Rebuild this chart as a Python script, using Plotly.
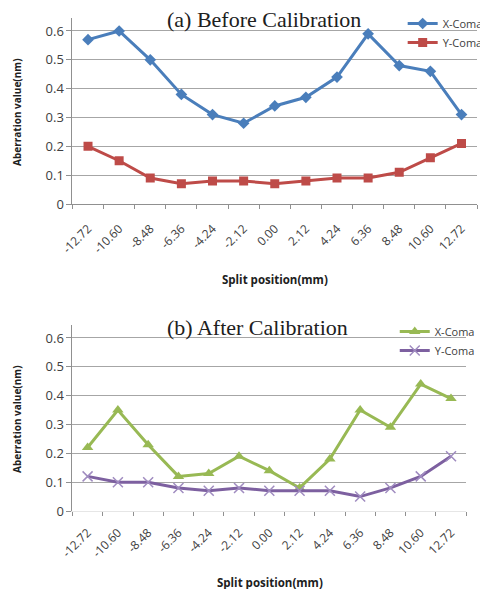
import plotly.graph_objects as go

positions = ["-12.72", "-10.60", "-8.48", "-6.36", "-4.24", "-2.12", "0.00",
             "2.12", "4.24", "6.36", "8.48", "10.60", "12.72"]
before_x = [0.57, 0.60, 0.50, 0.38, 0.31, 0.28, 0.34, 0.37, 0.44, 0.59, 0.48, 0.46, 0.31]
before_y = [0.20, 0.15, 0.09, 0.07, 0.08, 0.08, 0.07, 0.08, 0.09, 0.09, 0.11, 0.16, 0.21]
after_x = [0.22, 0.35, 0.23, 0.12, 0.13, 0.19, 0.14, 0.08, 0.18, 0.35, 0.29, 0.44, 0.39]
after_y = [0.12, 0.10, 0.10, 0.08, 0.07, 0.08, 0.07, 0.07, 0.07, 0.05, 0.08, 0.12, 0.19]
y_ticks = [0, 0.1, 0.2, 0.3, 0.4, 0.5, 0.6]
y_tick_text = ["0", "0.1", "0.2", "0.3", "0.4", "0.5", "0.6"]

# page body has an 8px margin, so the figure is 8px smaller than the window
OFF = 8
W, H = 488 - OFF, 589 - OFF
BLUE, RED, GREEN, PURPLE = "#4a7ebb", "#be4b48", "#98b954", "#7d60a0"
SANS = "Open Sans, DejaVu Sans, sans-serif"
SERIF = "Liberation Serif, Times New Roman, serif"


def px(x):
    return (x - OFF) / W


def py(y):
    return 1 - (y - OFF) / H


fig = go.Figure()
fig.add_trace(go.Scatter(x=positions, y=before_x, name="X-Coma", mode="lines+markers",
                         line=dict(color=BLUE, width=3), marker=dict(symbol="diamond", size=9, color=BLUE),
                         xaxis="x", yaxis="y", legend="legend"))
fig.add_trace(go.Scatter(x=positions, y=before_y, name="Y-Coma", mode="lines+markers",
                         line=dict(color=RED, width=3), marker=dict(symbol="square", size=9, color=RED),
                         xaxis="x", yaxis="y", legend="legend"))
fig.add_trace(go.Scatter(x=positions, y=after_x, name="X-Coma", mode="lines+markers",
                         line=dict(color=GREEN, width=3), marker=dict(symbol="triangle-up", size=10, color=GREEN),
                         xaxis="x2", yaxis="y2", legend="legend2"))
fig.add_trace(go.Scatter(x=positions, y=after_y, name="Y-Coma", mode="lines+markers",
                         line=dict(color=PURPLE, width=3),
                         marker=dict(symbol="x-thin", size=10, color=PURPLE, line=dict(color="#a08cc0", width=1.5)),
                         xaxis="x2", yaxis="y2", legend="legend2"))


def xaxis(domain, anchor, linecolor, standoff):
    return dict(domain=domain, anchor=anchor, type="category", range=[-0.5, 12.5], automargin=False,
                tickangle=-45, tickson="boundaries", ticks="outside", ticklen=4,
                tickcolor="#909090", showline=True, linecolor=linecolor, linewidth=1,
                showgrid=False, zeroline=False, ticklabelstandoff=standoff,
                tickfont=dict(family=SANS, size=12, color="#404040"))


def yaxis(domain, anchor):
    return dict(domain=domain, anchor=anchor, range=[0, 0.645], tickvals=y_ticks, ticktext=y_tick_text,
                automargin=False, ticks="outside", ticklen=5, tickcolor="#909090", showline=True,
                linecolor="#909090", linewidth=1, showgrid=True, gridcolor="#a6a6a6", gridwidth=1,
                zeroline=False, tickfont=dict(family=SANS, size=13, color="#404040"))


def ann(text, x, y, font, angle=0):
    return dict(text=text, x=px(x), y=py(y), xref="paper", yref="paper", showarrow=False,
                xanchor="center", yanchor="middle", textangle=angle, font=font)


title_font = dict(family=SERIF, size=22, color="#202020")
axis_font = dict(family=SANS, size=11.5, color="#202020")
ytitle_font = dict(family=SANS, size=10, color="#202020")
leg_font = dict(family=SANS, size=11, color="#404040")

fig.update_layout(
    template="none",
    width=W, height=H, autosize=False,
    margin=dict(l=0, r=0, t=0, b=0),
    paper_bgcolor="white", plot_bgcolor="white",
    showlegend=True,
    xaxis=xaxis([px(73), px(481)], "y", "#909090", 12),
    yaxis=yaxis([py(204), py(18)], "x"),
    xaxis2=xaxis([px(73), px(470)], "y2", "#e6e6e6", 9),
    yaxis2=yaxis([py(511), py(325)], "x2"),
    legend=dict(x=px(406), y=py(9), xanchor="left", yanchor="top", bgcolor="rgba(255,255,255,0)",
                font=leg_font, itemwidth=30, tracegroupgap=4),
    legend2=dict(x=px(398), y=py(317), xanchor="left", yanchor="top", bgcolor="rgba(255,255,255,0)",
                 font=leg_font, itemwidth=30, tracegroupgap=4),
    annotations=[
        ann("(a) Before Calibration", 266, 19, title_font),
        ann("(b) After Calibration", 260, 327, title_font),
        ann("<b>Split position(mm)</b>", 277, 279, axis_font),
        ann("<b>Split position(mm)</b>", 272, 582, axis_font),
        ann("<b>Aberration value(nm)</b>", 17, 112, ytitle_font, -90),
        ann("<b>Aberration value(nm)</b>", 17, 419, ytitle_font, -90),
    ],
)

fig.write_html("out.html")
